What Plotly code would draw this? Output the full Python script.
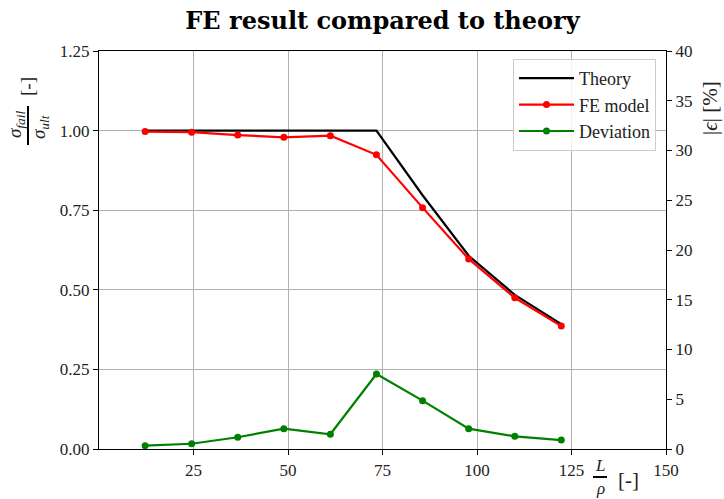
import plotly.graph_objects as go

# Slenderness ratio L/rho of the analysed columns
slenderness = [12.2, 24.5, 36.7, 48.9, 61.2, 73.4, 85.6, 97.8, 110.0, 122.3]
# Normalised failure stress sigma_fail / sigma_ult
theory = [1.0, 1.0, 1.0, 1.0, 1.0, 1.0, 0.797, 0.607, 0.484, 0.392]
fe_model = [0.997, 0.995, 0.986, 0.979, 0.984, 0.924, 0.758, 0.597, 0.475, 0.386]
# Relative deviation |eps| in percent
deviation = [0.33, 0.53, 1.18, 2.04, 1.48, 7.54, 4.86, 2.04, 1.27, 0.90]

x_ticks = [25, 50, 75, 100, 125, 150]
left_ticks = [0.0, 0.25, 0.5, 0.75, 1.0, 1.25]
right_ticks = [0, 5, 10, 15, 20, 25, 30, 35, 40]

SERIF = "Liberation Serif"
W, H = 724, 499
L, R, T, B = 99, 58, 51, 50
PW, PH = W - L - R, H - T - B


def px(xp):
    return (xp - L) / PW


def py(yp):
    return (H - B - yp) / PH


fig = go.Figure()
fig.add_trace(go.Scatter(x=slenderness, y=theory, name="Theory", mode="lines",
                         line=dict(color="black", width=2.2)))
fig.add_trace(go.Scatter(x=slenderness, y=fe_model, name="FE model", mode="lines+markers",
                         line=dict(color="red", width=2.2), marker=dict(color="red", size=7)))
fig.add_trace(go.Scatter(x=slenderness, y=deviation, name="Deviation", mode="lines+markers",
                         yaxis="y2",
                         line=dict(color="green", width=2.2), marker=dict(color="green", size=7)))

axis_common = dict(showline=True, linecolor="black", linewidth=1.3, ticks="outside",
                   ticklen=5, tickcolor="black", tickfont=dict(family=SERIF, size=17, color="#222"),
                   zeroline=False)

fig.update_layout(
    width=W, height=H,
    margin=dict(l=L, r=R, t=T, b=B),
    paper_bgcolor="white", plot_bgcolor="white",
    title=dict(text="<b>FE result compared to theory</b>", x=px(L + PW / 2), xanchor="center",
               xref="paper", y=1 - 21 / H, yanchor="middle",
               font=dict(family="DejaVu Serif", size=24, color="black")),
    xaxis=dict(range=[0, 150], tickvals=x_ticks, showgrid=True, gridcolor="#b0b0b0", gridwidth=1,
               mirror=True, **axis_common),
    yaxis=dict(range=[0, 1.25], tickvals=left_ticks, tickformat=".2f", showgrid=True,
               gridcolor="#b0b0b0", gridwidth=1, **axis_common),
    yaxis2=dict(range=[0, 40], tickvals=right_ticks, overlaying="y", side="right", showgrid=False,
                **axis_common),
    legend=dict(x=px(656), xanchor="right", y=py(59), yanchor="top", itemwidth=55,
                bgcolor="rgba(255,255,255,0.85)", bordercolor="#cccccc", borderwidth=1,
                font=dict(family=SERIF, size=18, color="#222"), tracegroupgap=0),
    showlegend=True,
)

ann_font = dict(family=SERIF, size=19, color="#222")
annotations = [
    # left axis label: sigma_fail / sigma_ult [-]
    dict(x=px(16), y=py(125), text="<i>σ<sub>fail</sub></i>", textangle=-90),
    dict(x=px(40), y=py(127), text="<i>σ<sub>ult</sub></i>", textangle=-90),
    dict(x=px(28), y=py(87), text="[-]", textangle=-90),
    # right axis label: |eps| [%]
    dict(x=px(710), y=py(108), text="|<i>ϵ</i>| [%]", textangle=-90,
         font=dict(family=SERIF, size=21, color="#222")),
    # x axis label: L / rho [-]
    dict(x=px(600), y=py(466), text="<i>L</i>", font=dict(family=SERIF, size=17, color="#222")),
    dict(x=px(600), y=py(488), text="<i>ρ</i>", font=dict(family=SERIF, size=17, color="#222")),
    dict(x=px(628), y=py(480), text="[-]", font=dict(family=SERIF, size=21, color="#222")),
]
for a in annotations:
    a.setdefault("font", ann_font)
    fig.add_annotation(xref="paper", yref="paper", showarrow=False,
                       xanchor="center", yanchor="middle", **a)

# fraction bars
fig.add_shape(type="line", xref="paper", yref="paper", x0=px(28), x1=px(28), y0=py(106), y1=py(145),
              line=dict(color="black", width=2))
fig.add_shape(type="line", xref="paper", yref="paper", x0=px(593), x1=px(607), y0=py(477), y1=py(477),
              line=dict(color="black", width=2))

fig.write_html("out.html")
